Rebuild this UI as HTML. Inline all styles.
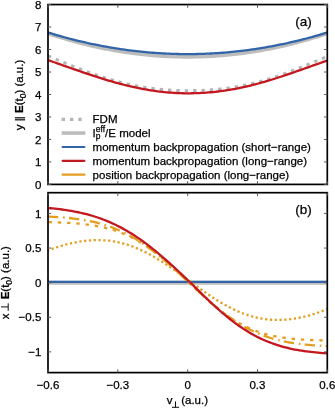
<!DOCTYPE html>
<html><head><meta charset="utf-8"><style>
html,body{margin:0;padding:0;background:#fff;}
svg{display:block;will-change:transform;font-family:"Liberation Sans",sans-serif;font-size:11.5px;fill:#000;}
text{stroke:#000;stroke-width:0.25px;}
</style></head><body>
<svg width="335" height="408" viewBox="0 0 335 408">
<rect width="335" height="408" fill="#fff"/>
<clipPath id="ca"><rect x="48" y="4.5" width="279.3" height="179.9"/></clipPath>
<clipPath id="cb"><rect x="48" y="192.7" width="279.3" height="179.9"/></clipPath>
<g clip-path="url(#ca)" fill="none" stroke-linecap="butt">
<path d="M48.00,55.78 L50.33,56.78 L52.66,57.78 L54.98,58.78 L57.31,59.76 L59.64,60.74 L61.97,61.72 L64.29,62.69 L66.62,63.65 L68.95,64.60 L71.28,65.55 L73.60,66.48 L75.93,67.41 L78.26,68.32 L80.59,69.23 L82.91,70.12 L85.24,71.00 L87.57,71.86 L89.90,72.72 L92.22,73.55 L94.55,74.37 L96.88,75.18 L99.20,75.97 L101.53,76.74 L103.86,77.49 L106.19,78.23 L108.52,78.94 L110.84,79.64 L113.17,80.31 L115.50,80.96 L117.83,81.60 L120.15,82.21 L122.48,82.80 L124.81,83.37 L127.14,83.91 L129.46,84.44 L131.79,84.94 L134.12,85.42 L136.45,85.88 L138.77,86.31 L141.10,86.73 L143.43,87.12 L145.75,87.49 L148.08,87.84 L150.41,88.16 L152.74,88.47 L155.06,88.75 L157.39,89.01 L159.72,89.26 L162.05,89.48 L164.38,89.68 L166.70,89.87 L169.03,90.03 L171.36,90.17 L173.69,90.30 L176.01,90.41 L178.34,90.49 L180.67,90.56 L183.00,90.61 L185.32,90.64 L187.65,90.66 L189.98,90.65 L192.30,90.63 L194.63,90.60 L196.96,90.54 L199.29,90.47 L201.62,90.39 L203.94,90.28 L206.27,90.16 L208.60,90.02 L210.93,89.86 L213.25,89.68 L215.58,89.48 L217.91,89.27 L220.24,89.03 L222.56,88.77 L224.89,88.49 L227.22,88.19 L229.54,87.87 L231.87,87.53 L234.20,87.16 L236.53,86.77 L238.85,86.36 L241.18,85.92 L243.51,85.46 L245.84,84.98 L248.17,84.47 L250.49,83.94 L252.82,83.38 L255.15,82.81 L257.48,82.20 L259.80,81.58 L262.13,80.93 L264.46,80.26 L266.78,79.57 L269.11,78.85 L271.44,78.12 L273.77,77.37 L276.10,76.59 L278.42,75.80 L280.75,74.99 L283.08,74.16 L285.41,73.31 L287.73,72.45 L290.06,71.58 L292.39,70.69 L294.71,69.79 L297.04,68.88 L299.37,67.96 L301.70,67.02 L304.03,66.08 L306.35,65.13 L308.68,64.17 L311.01,63.21 L313.33,62.24 L315.66,61.26 L317.99,60.28 L320.32,59.30 L322.64,58.31 L324.97,57.31 L327.30,56.32" stroke="#b5b5b5" stroke-width="3.0" stroke-dasharray="3.4 4.964"/>
<path d="M48.00,33.36 L50.33,34.13 L52.66,34.90 L54.98,35.65 L57.31,36.38 L59.64,37.11 L61.97,37.82 L64.29,38.51 L66.62,39.20 L68.95,39.87 L71.28,40.53 L73.60,41.17 L75.93,41.81 L78.26,42.43 L80.59,43.03 L82.91,43.62 L85.24,44.20 L87.57,44.77 L89.90,45.33 L92.22,45.87 L94.55,46.40 L96.88,46.91 L99.20,47.41 L101.53,47.90 L103.86,48.38 L106.19,48.84 L108.52,49.29 L110.84,49.73 L113.17,50.15 L115.50,50.56 L117.83,50.96 L120.15,51.34 L122.48,51.71 L124.81,52.07 L127.14,52.42 L129.46,52.75 L131.79,53.07 L134.12,53.38 L136.45,53.67 L138.77,53.95 L141.10,54.22 L143.43,54.47 L145.75,54.71 L148.08,54.94 L150.41,55.16 L152.74,55.36 L155.06,55.55 L157.39,55.72 L159.72,55.89 L162.05,56.04 L164.38,56.17 L166.70,56.30 L169.03,56.41 L171.36,56.51 L173.69,56.59 L176.01,56.66 L178.34,56.72 L180.67,56.77 L183.00,56.80 L185.32,56.82 L187.65,56.83 L189.98,56.82 L192.30,56.80 L194.63,56.77 L196.96,56.72 L199.29,56.66 L201.62,56.59 L203.94,56.51 L206.27,56.41 L208.60,56.30 L210.93,56.17 L213.25,56.04 L215.58,55.89 L217.91,55.72 L220.24,55.55 L222.56,55.36 L224.89,55.16 L227.22,54.94 L229.54,54.71 L231.87,54.47 L234.20,54.22 L236.53,53.95 L238.85,53.67 L241.18,53.38 L243.51,53.07 L245.84,52.75 L248.17,52.42 L250.49,52.07 L252.82,51.71 L255.15,51.34 L257.48,50.96 L259.80,50.56 L262.13,50.15 L264.46,49.73 L266.78,49.29 L269.11,48.84 L271.44,48.38 L273.77,47.90 L276.10,47.41 L278.42,46.91 L280.75,46.40 L283.08,45.87 L285.41,45.33 L287.73,44.77 L290.06,44.20 L292.39,43.62 L294.71,43.03 L297.04,42.43 L299.37,41.81 L301.70,41.17 L304.03,40.53 L306.35,39.87 L308.68,39.20 L311.01,38.51 L313.33,37.82 L315.66,37.11 L317.99,36.38 L320.32,35.65 L322.64,34.90 L324.97,34.13 L327.30,33.36" stroke="#bdbdbd" stroke-width="3.7"/>
<path d="M48.00,32.50 L50.33,33.21 L52.66,33.91 L54.98,34.60 L57.31,35.28 L59.64,35.95 L61.97,36.60 L64.29,37.24 L66.62,37.87 L68.95,38.49 L71.28,39.09 L73.60,39.69 L75.93,40.27 L78.26,40.84 L80.59,41.40 L82.91,41.94 L85.24,42.48 L87.57,43.00 L89.90,43.51 L92.22,44.01 L94.55,44.49 L96.88,44.96 L99.20,45.43 L101.53,45.88 L103.86,46.31 L106.19,46.74 L108.52,47.15 L110.84,47.55 L113.17,47.94 L115.50,48.32 L117.83,48.69 L120.15,49.04 L122.48,49.38 L124.81,49.71 L127.14,50.03 L129.46,50.34 L131.79,50.63 L134.12,50.91 L136.45,51.18 L138.77,51.44 L141.10,51.69 L143.43,51.92 L145.75,52.14 L148.08,52.35 L150.41,52.55 L152.74,52.73 L155.06,52.91 L157.39,53.07 L159.72,53.22 L162.05,53.36 L164.38,53.48 L166.70,53.60 L169.03,53.70 L171.36,53.79 L173.69,53.87 L176.01,53.93 L178.34,53.99 L180.67,54.03 L183.00,54.06 L185.32,54.08 L187.65,54.08 L189.98,54.08 L192.30,54.06 L194.63,54.03 L196.96,53.99 L199.29,53.93 L201.62,53.87 L203.94,53.79 L206.27,53.70 L208.60,53.60 L210.93,53.48 L213.25,53.36 L215.58,53.22 L217.91,53.07 L220.24,52.91 L222.56,52.73 L224.89,52.55 L227.22,52.35 L229.54,52.14 L231.87,51.92 L234.20,51.69 L236.53,51.44 L238.85,51.18 L241.18,50.91 L243.51,50.63 L245.84,50.34 L248.17,50.03 L250.49,49.71 L252.82,49.38 L255.15,49.04 L257.48,48.69 L259.80,48.32 L262.13,47.94 L264.46,47.55 L266.78,47.15 L269.11,46.74 L271.44,46.31 L273.77,45.88 L276.10,45.43 L278.42,44.96 L280.75,44.49 L283.08,44.01 L285.41,43.51 L287.73,43.00 L290.06,42.48 L292.39,41.94 L294.71,41.40 L297.04,40.84 L299.37,40.27 L301.70,39.69 L304.03,39.09 L306.35,38.49 L308.68,37.87 L311.01,37.24 L313.33,36.60 L315.66,35.95 L317.99,35.28 L320.32,34.60 L322.64,33.91 L324.97,33.21 L327.30,32.50" stroke="#3164a8" stroke-width="2.3"/>
<path d="M48.00,60.07 L50.33,60.89 L52.66,61.71 L54.98,62.53 L57.31,63.35 L59.64,64.18 L61.97,65.00 L64.29,65.82 L66.62,66.64 L68.95,67.46 L71.28,68.27 L73.60,69.09 L75.93,69.90 L78.26,70.71 L80.59,71.51 L82.91,72.31 L85.24,73.10 L87.57,73.89 L89.90,74.66 L92.22,75.43 L94.55,76.20 L96.88,76.95 L99.20,77.69 L101.53,78.42 L103.86,79.14 L106.19,79.85 L108.52,80.54 L110.84,81.22 L113.17,81.89 L115.50,82.54 L117.83,83.18 L120.15,83.80 L122.48,84.41 L124.81,85.00 L127.14,85.57 L129.46,86.12 L131.79,86.66 L134.12,87.18 L136.45,87.68 L138.77,88.16 L141.10,88.62 L143.43,89.06 L145.75,89.48 L148.08,89.88 L150.41,90.26 L152.74,90.61 L155.06,90.95 L157.39,91.27 L159.72,91.56 L162.05,91.83 L164.38,92.08 L166.70,92.31 L169.03,92.51 L171.36,92.69 L173.69,92.85 L176.01,92.99 L178.34,93.10 L180.67,93.19 L183.00,93.25 L185.32,93.29 L187.65,93.30 L189.98,93.30 L192.30,93.27 L194.63,93.22 L196.96,93.14 L199.29,93.05 L201.62,92.93 L203.94,92.79 L206.27,92.63 L208.60,92.45 L210.93,92.25 L213.25,92.02 L215.58,91.77 L217.91,91.50 L220.24,91.21 L222.56,90.90 L224.89,90.57 L227.22,90.21 L229.54,89.84 L231.87,89.44 L234.20,89.03 L236.53,88.59 L238.85,88.13 L241.18,87.65 L243.51,87.15 L245.84,86.63 L248.17,86.10 L250.49,85.54 L252.82,84.96 L255.15,84.37 L257.48,83.75 L259.80,83.12 L262.13,82.48 L264.46,81.81 L266.78,81.13 L269.11,80.44 L271.44,79.73 L273.77,79.01 L276.10,78.27 L278.42,77.52 L280.75,76.76 L283.08,75.99 L285.41,75.21 L287.73,74.43 L290.06,73.63 L292.39,72.83 L294.71,72.02 L297.04,71.21 L299.37,70.39 L301.70,69.57 L304.03,68.75 L306.35,67.93 L308.68,67.10 L311.01,66.28 L313.33,65.45 L315.66,64.63 L317.99,63.81 L320.32,62.99 L322.64,62.17 L324.97,61.36 L327.30,60.54" stroke="#c3181f" stroke-width="2.3"/>
</g>
<g clip-path="url(#cb)" fill="none">
<path d="M48,282.75 L327.3,282.75" stroke="#bdbdbd" stroke-width="4.0"/>
<path d="M48,281.85 L327.3,281.85" stroke="#3164a8" stroke-width="2.1"/>
<path d="M48.00,250.49 L50.33,249.56 L52.66,248.68 L54.98,247.85 L57.31,247.07 L59.64,246.33 L61.97,245.63 L64.29,244.97 L66.62,244.35 L68.95,243.77 L71.28,243.23 L73.60,242.73 L75.93,242.27 L78.26,241.85 L80.59,241.48 L82.91,241.14 L85.24,240.86 L87.57,240.61 L89.90,240.42 L92.22,240.27 L94.55,240.17 L96.88,240.13 L99.20,240.13 L101.53,240.19 L103.86,240.31 L106.19,240.48 L108.52,240.70 L110.84,240.99 L113.17,241.33 L115.50,241.73 L117.83,242.20 L120.15,242.72 L122.48,243.30 L124.81,243.95 L127.14,244.65 L129.46,245.41 L131.79,246.24 L134.12,247.12 L136.45,248.06 L138.77,249.06 L141.10,250.11 L143.43,251.22 L145.75,252.38 L148.08,253.59 L150.41,254.85 L152.74,256.16 L155.06,257.51 L157.39,258.91 L159.72,260.35 L162.05,261.83 L164.38,263.34 L166.70,264.88 L169.03,266.46 L171.36,268.06 L173.69,269.68 L176.01,271.33 L178.34,272.99 L180.67,274.67 L183.00,276.36 L185.32,278.05 L187.65,279.75 L189.98,281.45 L192.30,283.15 L194.63,284.84 L196.96,286.52 L199.29,288.19 L201.62,289.84 L203.94,291.48 L206.27,293.09 L208.60,294.67 L210.93,296.23 L213.25,297.75 L215.58,299.25 L217.91,300.70 L220.24,302.11 L222.56,303.48 L224.89,304.81 L227.22,306.09 L229.54,307.32 L231.87,308.50 L234.20,309.63 L236.53,310.71 L238.85,311.73 L241.18,312.69 L243.51,313.59 L245.84,314.43 L248.17,315.22 L250.49,315.94 L252.82,316.61 L255.15,317.21 L257.48,317.75 L259.80,318.24 L262.13,318.66 L264.46,319.02 L266.78,319.32 L269.11,319.56 L271.44,319.74 L273.77,319.87 L276.10,319.93 L278.42,319.95 L280.75,319.91 L283.08,319.81 L285.41,319.66 L287.73,319.47 L290.06,319.22 L292.39,318.92 L294.71,318.58 L297.04,318.19 L299.37,317.75 L301.70,317.27 L304.03,316.75 L306.35,316.18 L308.68,315.57 L311.01,314.91 L313.33,314.21 L315.66,313.46 L317.99,312.67 L320.32,311.82 L322.64,310.93 L324.97,309.99 L327.30,308.98" stroke="#e39e20" stroke-width="2.3" stroke-dasharray="2.2 2.602" stroke-dashoffset="0.96"/>
<path d="M48.00,222.15 L50.33,222.20 L52.66,222.26 L54.98,222.32 L57.31,222.39 L59.64,222.48 L61.97,222.57 L64.29,222.67 L66.62,222.78 L68.95,222.91 L71.28,223.05 L73.60,223.21 L75.93,223.39 L78.26,223.58 L80.59,223.80 L82.91,224.04 L85.24,224.30 L87.57,224.59 L89.90,224.90 L92.22,225.25 L94.55,225.62 L96.88,226.03 L99.20,226.48 L101.53,226.96 L103.86,227.48 L106.19,228.05 L108.52,228.66 L110.84,229.31 L113.17,230.01 L115.50,230.77 L117.83,231.57 L120.15,232.43 L122.48,233.34 L124.81,234.31 L127.14,235.34 L129.46,236.43 L131.79,237.57 L134.12,238.78 L136.45,240.05 L138.77,241.38 L141.10,242.78 L143.43,244.23 L145.75,245.75 L148.08,247.33 L150.41,248.96 L152.74,250.66 L155.06,252.41 L157.39,254.22 L159.72,256.08 L162.05,257.98 L164.38,259.94 L166.70,261.94 L169.03,263.98 L171.36,266.06 L173.69,268.17 L176.01,270.31 L178.34,272.48 L180.67,274.67 L183.00,276.87 L185.32,279.09 L187.65,281.31 L189.98,283.54 L192.30,285.76 L194.63,287.97 L196.96,290.17 L199.29,292.35 L201.62,294.51 L203.94,296.64 L206.27,298.74 L208.60,300.81 L210.93,302.84 L213.25,304.82 L215.58,306.76 L217.91,308.65 L220.24,310.48 L222.56,312.26 L224.89,313.98 L227.22,315.64 L229.54,317.24 L231.87,318.78 L234.20,320.25 L236.53,321.66 L238.85,323.00 L241.18,324.28 L243.51,325.50 L245.84,326.65 L248.17,327.74 L250.49,328.77 L252.82,329.73 L255.15,330.64 L257.48,331.49 L259.80,332.29 L262.13,333.03 L264.46,333.72 L266.78,334.36 L269.11,334.95 L271.44,335.50 L273.77,336.01 L276.10,336.47 L278.42,336.90 L280.75,337.29 L283.08,337.64 L285.41,337.97 L287.73,338.26 L290.06,338.53 L292.39,338.78 L294.71,338.99 L297.04,339.19 L299.37,339.37 L301.70,339.53 L304.03,339.67 L306.35,339.80 L308.68,339.91 L311.01,340.01 L313.33,340.10 L315.66,340.18 L317.99,340.25 L320.32,340.31 L322.64,340.36 L324.97,340.41 L327.30,340.45" stroke="#e39e20" stroke-width="2.3" stroke-dasharray="3.4 5.876" stroke-dashoffset="-0.54"/>
<path d="M48.00,216.55 L50.33,216.66 L52.66,216.78 L54.98,216.91 L57.31,217.05 L59.64,217.21 L61.97,217.38 L64.29,217.57 L66.62,217.78 L68.95,218.01 L71.28,218.26 L73.60,218.52 L75.93,218.82 L78.26,219.13 L80.59,219.48 L82.91,219.85 L85.24,220.25 L87.57,220.68 L89.90,221.14 L92.22,221.64 L94.55,222.17 L96.88,222.74 L99.20,223.35 L101.53,224.00 L103.86,224.69 L106.19,225.43 L108.52,226.21 L110.84,227.04 L113.17,227.91 L115.50,228.84 L117.83,229.81 L120.15,230.84 L122.48,231.91 L124.81,233.04 L127.14,234.23 L129.46,235.46 L131.79,236.75 L134.12,238.10 L136.45,239.50 L138.77,240.95 L141.10,242.46 L143.43,244.01 L145.75,245.62 L148.08,247.29 L150.41,249.00 L152.74,250.76 L155.06,252.56 L157.39,254.41 L159.72,256.30 L162.05,258.24 L164.38,260.21 L166.70,262.21 L169.03,264.25 L171.36,266.32 L173.69,268.41 L176.01,270.53 L178.34,272.66 L180.67,274.82 L183.00,276.98 L185.32,279.16 L187.65,281.34 L189.98,283.52 L192.30,285.68 L194.63,287.85 L196.96,290.00 L199.29,292.14 L201.62,294.26 L203.94,296.36 L206.27,298.44 L208.60,300.49 L210.93,302.51 L213.25,304.50 L215.58,306.45 L217.91,308.36 L220.24,310.22 L222.56,312.05 L224.89,313.82 L227.22,315.55 L229.54,317.23 L231.87,318.86 L234.20,320.43 L236.53,321.95 L238.85,323.42 L241.18,324.83 L243.51,326.18 L245.84,327.48 L248.17,328.72 L250.49,329.91 L252.82,331.04 L255.15,332.12 L257.48,333.15 L259.80,334.12 L262.13,335.04 L264.46,335.91 L266.78,336.73 L269.11,337.50 L271.44,338.23 L273.77,338.91 L276.10,339.55 L278.42,340.15 L280.75,340.70 L283.08,341.22 L285.41,341.71 L287.73,342.16 L290.06,342.57 L292.39,342.96 L294.71,343.31 L297.04,343.64 L299.37,343.94 L301.70,344.22 L304.03,344.47 L306.35,344.70 L308.68,344.91 L311.01,345.11 L313.33,345.28 L315.66,345.44 L317.99,345.59 L320.32,345.72 L322.64,345.84 L324.97,345.94 L327.30,346.04" stroke="#e39e20" stroke-width="2.3" stroke-dasharray="10.3 4.85 1.6 4.315"/>
<path d="M48.00,208.04 L50.33,208.24 L52.66,208.46 L54.98,208.69 L57.31,208.94 L59.64,209.22 L61.97,209.51 L64.29,209.83 L66.62,210.16 L68.95,210.53 L71.28,210.92 L73.60,211.33 L75.93,211.77 L78.26,212.25 L80.59,212.75 L82.91,213.28 L85.24,213.85 L87.57,214.45 L89.90,215.09 L92.22,215.76 L94.55,216.48 L96.88,217.23 L99.20,218.02 L101.53,218.85 L103.86,219.73 L106.19,220.65 L108.52,221.61 L110.84,222.62 L113.17,223.68 L115.50,224.78 L117.83,225.93 L120.15,227.12 L122.48,228.37 L124.81,229.66 L127.14,231.00 L129.46,232.39 L131.79,233.82 L134.12,235.31 L136.45,236.84 L138.77,238.42 L141.10,240.04 L143.43,241.71 L145.75,243.43 L148.08,245.19 L150.41,246.99 L152.74,248.83 L155.06,250.71 L157.39,252.63 L159.72,254.58 L162.05,256.57 L164.38,258.59 L166.70,260.63 L169.03,262.71 L171.36,264.81 L173.69,266.94 L176.01,269.08 L178.34,271.24 L180.67,273.42 L183.00,275.60 L185.32,277.80 L187.65,280.00 L189.98,282.21 L192.30,284.50 L194.63,286.81 L196.96,289.12 L199.29,291.41 L201.62,293.69 L203.94,295.95 L206.27,298.19 L208.60,300.41 L210.93,302.60 L213.25,304.75 L215.58,306.88 L217.91,308.96 L220.24,311.01 L222.56,313.02 L224.89,314.98 L227.22,316.89 L229.54,318.75 L231.87,320.57 L234.20,322.33 L236.53,324.04 L238.85,325.70 L241.18,327.30 L243.51,328.84 L245.84,330.33 L248.17,331.77 L250.49,333.14 L252.82,334.46 L255.15,335.73 L257.48,336.93 L259.80,338.09 L262.13,339.18 L264.46,340.23 L266.78,341.22 L269.11,342.16 L271.44,343.05 L273.77,343.89 L276.10,344.69 L278.42,345.43 L280.75,346.14 L283.08,346.80 L285.41,347.42 L287.73,347.99 L290.06,348.54 L292.39,349.04 L294.71,349.51 L297.04,349.95 L299.37,350.35 L301.70,350.73 L304.03,351.08 L306.35,351.40 L308.68,351.70 L311.01,351.97 L313.33,352.22 L315.66,352.45 L317.99,352.66 L320.32,352.85 L322.64,353.03 L324.97,353.19 L327.30,353.34" stroke="#c3181f" stroke-width="2.3"/>
</g>
<rect x="48" y="4.55" width="279.3" height="179.85" fill="none" stroke="#000" stroke-width="1.7"/>
<rect x="48" y="192.7" width="279.3" height="179.90" fill="none" stroke="#000" stroke-width="1.7"/>
<path d="M48,184.40h3.2 M327.3,184.40h-3.2 M48,161.92h3.2 M327.3,161.92h-3.2 M48,139.44h3.2 M327.3,139.44h-3.2 M48,116.96h3.2 M327.3,116.96h-3.2 M48,94.48h3.2 M327.3,94.48h-3.2 M48,72.00h3.2 M327.3,72.00h-3.2 M48,49.52h3.2 M327.3,49.52h-3.2 M48,27.04h3.2 M327.3,27.04h-3.2 M48,4.56h3.2 M327.3,4.56h-3.2 M48,351.85h3.2 M327.3,351.85h-3.2 M48,317.25h3.2 M327.3,317.25h-3.2 M48,282.65h3.2 M327.3,282.65h-3.2 M48,248.05h3.2 M327.3,248.05h-3.2 M48,213.45h3.2 M327.3,213.45h-3.2 M48.00,4.55v3.2 M48.00,184.4v-3.2 M48.00,192.7v3.2 M48.00,372.6v-3.2 M117.83,4.55v3.2 M117.83,184.4v-3.2 M117.83,192.7v3.2 M117.83,372.6v-3.2 M187.65,4.55v3.2 M187.65,184.4v-3.2 M187.65,192.7v3.2 M187.65,372.6v-3.2 M257.48,4.55v3.2 M257.48,184.4v-3.2 M257.48,192.7v3.2 M257.48,372.6v-3.2 M327.30,4.55v3.2 M327.30,184.4v-3.2 M327.30,192.7v3.2 M327.30,372.6v-3.2" stroke="#555" stroke-width="1" fill="none"/>
<text x="41.3" y="188.50" text-anchor="end" >0</text>
<text x="41.3" y="166.02" text-anchor="end" >1</text>
<text x="41.3" y="143.54" text-anchor="end" >2</text>
<text x="41.3" y="121.06" text-anchor="end" >3</text>
<text x="41.3" y="98.58" text-anchor="end" >4</text>
<text x="41.3" y="76.10" text-anchor="end" >5</text>
<text x="41.3" y="53.62" text-anchor="end" >6</text>
<text x="41.3" y="31.14" text-anchor="end" >7</text>
<text x="41.3" y="8.66" text-anchor="end" >8</text>
<text x="41.3" y="355.95" text-anchor="end" >−1</text>
<text x="41.3" y="321.35" text-anchor="end" >−0.5</text>
<text x="41.3" y="286.75" text-anchor="end" >0</text>
<text x="41.3" y="252.15" text-anchor="end" >0.5</text>
<text x="41.3" y="217.55" text-anchor="end" >1</text>
<text x="48.00" y="388.6" text-anchor="middle" >−0.6</text>
<text x="117.83" y="388.6" text-anchor="middle" >−0.3</text>
<text x="187.65" y="388.6" text-anchor="middle" >0</text>
<text x="257.48" y="388.6" text-anchor="middle" >0.3</text>
<text x="327.30" y="388.6" text-anchor="middle" >0.6</text>
<text x="166.8" y="404.4" text-anchor="start" >v</text>
<path d="M175.5,401.4V407.3M172,407.3H179" stroke="#000" stroke-width="0.95" fill="none"/>
<text x="181.2" y="404.4" text-anchor="start" >(a.u.)</text>
<text x="303.5" y="26.2" text-anchor="middle" font-size="13.5">(a)</text>
<text x="303.5" y="214.3" text-anchor="middle" font-size="13.5">(b)</text>
<text transform="translate(22.5,95) rotate(-90)" text-anchor="middle">y <tspan letter-spacing="-0.9">|</tspan>| <tspan font-weight="bold">E</tspan>(t<tspan font-size="8.5" dy="3.2">0</tspan><tspan dy="-3.2">) (a.u.)</tspan></text>
<text transform="translate(8.6,319.2) rotate(-90)" text-anchor="start">x</text>
<path d="M8.2,303.3V310.8M1,306.9H8.2" stroke="#000" stroke-width="0.95" fill="none"/>
<text transform="translate(8.6,299.35) rotate(-90)" text-anchor="start"><tspan font-weight="bold">E</tspan>(t<tspan font-size="8.5" dy="3.2">0</tspan><tspan dy="-3.2">) (a.u.)</tspan></text>
<path d="M61.6,119.35h3.4m4.95,0h3.4m4.95,0h3.4" stroke="#b5b5b5" stroke-width="3.4" fill="none"/>
<path d="M61.6,133.05H85.4" stroke="#bdbdbd" stroke-width="3.6" fill="none"/>
<path d="M62.6,147.0H84.4" stroke="#3164a8" stroke-width="2.1" stroke-linecap="round" fill="none"/>
<path d="M62.6,160.85H84.4" stroke="#c3181f" stroke-width="2.1" stroke-linecap="round" fill="none"/>
<path d="M62.6,174.65H84.4" stroke="#e39e20" stroke-width="2.3" stroke-linecap="round" fill="none"/>
<text x="92.6" y="123.45" text-anchor="start" >FDM</text>
<text x="92.6" y="137.15" text-anchor="start" >I<tspan font-size="8.5" dy="2.3">p</tspan><tspan font-size="8.5" x="95.8" dy="-7.9">eff</tspan><tspan dy="5.6">/E model</tspan></text>
<text x="92.6" y="151.10" text-anchor="start" >momentum backpropagation (short−range)</text>
<text x="92.6" y="164.95" text-anchor="start" >momentum backpropagation (long−range)</text>
<text x="92.6" y="178.75" text-anchor="start" >position backpropagation (long−range)</text>
</svg></body></html>
